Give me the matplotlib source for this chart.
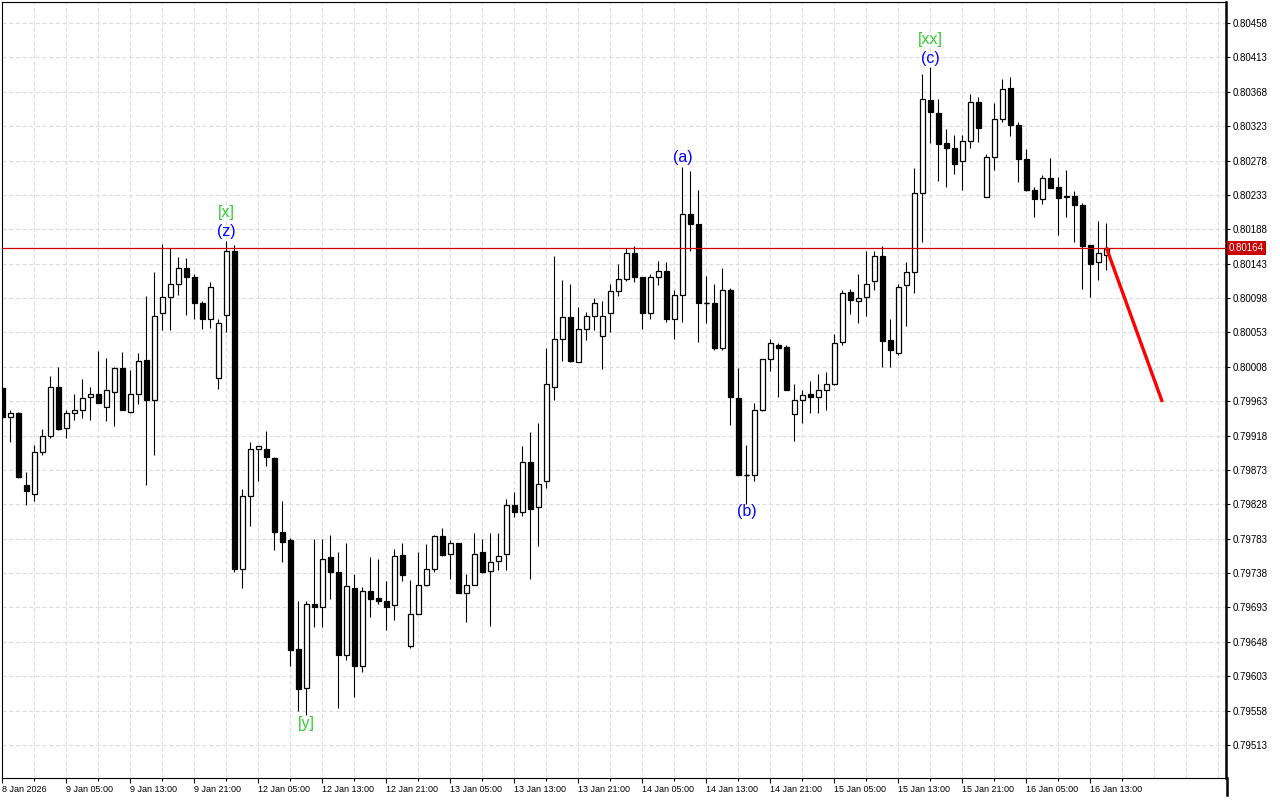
import matplotlib
matplotlib.use("Agg")
import matplotlib.pyplot as plt
import matplotlib.transforms as mtransforms
from matplotlib.lines import Line2D
import numpy as np

plt.rcParams['font.family'] = ['Liberation Sans', 'DejaVu Sans']

# ---------------- data (hourly candles, bar index 0 = 8 Jan 2026) ----------------
opens = [0.79980, 0.79942, 0.79948, 0.79853, 0.79841, 0.79896, 0.79917, 0.79981, 0.79928, 0.79947,
         0.79952, 0.79968, 0.79973, 0.79955, 0.79975, 0.80006, 0.79949, 0.79972, 0.80017, 0.79964,
         0.80079, 0.80100, 0.80116, 0.80137, 0.80126, 0.80091, 0.80071, 0.79993, 0.80076, 0.80160,
         0.79744, 0.79839, 0.79901, 0.79901, 0.79888, 0.79792, 0.79781, 0.79639, 0.79588, 0.79697,
         0.79693, 0.79759, 0.79739, 0.79631, 0.79719, 0.79617, 0.79715, 0.79705, 0.79702, 0.79696,
         0.79762, 0.79643, 0.79685, 0.79723, 0.79744, 0.79787, 0.79763, 0.79777, 0.79712, 0.79723,
         0.79765, 0.79741, 0.79754, 0.79763, 0.79827, 0.79818, 0.79883, 0.79824, 0.79858, 0.79982,
         0.80044, 0.80073, 0.80014, 0.80058, 0.80075, 0.80048, 0.80078, 0.80107, 0.80123, 0.80157,
         0.80125, 0.80079, 0.80126, 0.80133, 0.80071, 0.80102, 0.80208, 0.80195, 0.80091, 0.80091,
         0.80033, 0.80108, 0.79967, 0.79867, 0.79867, 0.79952, 0.80018, 0.80036, 0.80034, 0.79946,
         0.79964, 0.79972, 0.79968, 0.79977, 0.79985, 0.80040, 0.80106, 0.80094, 0.80099, 0.80120,
         0.80153, 0.80043, 0.80026, 0.80115, 0.80132, 0.80236, 0.80357, 0.80340, 0.80301, 0.80295,
         0.80277, 0.80303, 0.80355, 0.80230, 0.80282, 0.80332, 0.80373, 0.80325, 0.80280, 0.80239,
         0.80228, 0.80255, 0.80243, 0.80230, 0.80232, 0.80220, 0.80167, 0.80145, 0.80155]
highs = [0.79983, 0.79951, 0.79949, 0.79870, 0.79906, 0.79926, 0.79996, 0.80008, 0.79951, 0.79972,
         0.79992, 0.79982, 0.80029, 0.80020, 0.80008, 0.80027, 0.80004, 0.80026, 0.80101, 0.80132,
         0.80169, 0.80163, 0.80152, 0.80150, 0.80130, 0.80094, 0.80119, 0.80071, 0.80173, 0.80167,
         0.79848, 0.79909, 0.79905, 0.79924, 0.79890, 0.79832, 0.79784, 0.79701, 0.79701, 0.79783,
         0.79783, 0.79788, 0.79765, 0.79778, 0.79737, 0.79720, 0.79759, 0.79756, 0.79728, 0.79770,
         0.79778, 0.79729, 0.79765, 0.79776, 0.79788, 0.79797, 0.79781, 0.79778, 0.79737, 0.79790,
         0.79783, 0.79790, 0.79791, 0.79835, 0.79844, 0.79904, 0.79923, 0.79934, 0.80032, 0.80153,
         0.80122, 0.80116, 0.80086, 0.80080, 0.80098, 0.80094, 0.80117, 0.80142, 0.80163, 0.80166,
         0.80125, 0.80130, 0.80146, 0.80145, 0.80108, 0.80270, 0.80264, 0.80239, 0.80127, 0.80116,
         0.80137, 0.80111, 0.80006, 0.79906, 0.79960, 0.80018, 0.80044, 0.80039, 0.80036, 0.79986,
         0.79977, 0.79989, 0.79998, 0.80001, 0.80051, 0.80108, 0.80110, 0.80130, 0.80160, 0.80160,
         0.80166, 0.80071, 0.80116, 0.80145, 0.80268, 0.80391, 0.80400, 0.80359, 0.80319, 0.80311,
         0.80311, 0.80365, 0.80361, 0.80287, 0.80353, 0.80385, 0.80387, 0.80328, 0.80293, 0.80244,
         0.80259, 0.80281, 0.80256, 0.80266, 0.80238, 0.80222, 0.80167, 0.80199, 0.80196]
lows = [0.79940, 0.79910, 0.79862, 0.79827, 0.79833, 0.79892, 0.79915, 0.79925, 0.79915, 0.79938,
        0.79941, 0.79938, 0.79960, 0.79937, 0.79930, 0.79951, 0.79947, 0.79959, 0.79853, 0.79893,
        0.80056, 0.80056, 0.80102, 0.80076, 0.80071, 0.80058, 0.80059, 0.79979, 0.80054, 0.79740,
        0.79718, 0.79799, 0.79858, 0.79878, 0.79768, 0.79753, 0.79617, 0.79558, 0.79552, 0.79668,
        0.79667, 0.79704, 0.79562, 0.79624, 0.79576, 0.79608, 0.79681, 0.79697, 0.79663, 0.79676,
        0.79727, 0.79640, 0.79684, 0.79721, 0.79740, 0.79760, 0.79730, 0.79712, 0.79674, 0.79722,
        0.79738, 0.79669, 0.79742, 0.79742, 0.79812, 0.79813, 0.79730, 0.79773, 0.79850, 0.79964,
        0.80016, 0.80014, 0.80014, 0.80043, 0.80056, 0.80005, 0.80053, 0.80101, 0.80120, 0.80119,
        0.80057, 0.80071, 0.80115, 0.80067, 0.80044, 0.80067, 0.80160, 0.80041, 0.80066, 0.80030,
        0.80030, 0.79932, 0.79867, 0.79829, 0.79859, 0.79950, 0.80002, 0.79968, 0.79977, 0.79911,
        0.79935, 0.79947, 0.79947, 0.79952, 0.79984, 0.80036, 0.80077, 0.80065, 0.80074, 0.80108,
        0.80008, 0.80008, 0.80023, 0.80061, 0.80104, 0.80171, 0.80301, 0.80251, 0.80244, 0.80260,
        0.80240, 0.80294, 0.80302, 0.80230, 0.80265, 0.80328, 0.80310, 0.80250, 0.80238, 0.80204,
        0.80221, 0.80242, 0.80180, 0.80204, 0.80172, 0.80110, 0.80100, 0.80122, 0.80135]
closes = [0.79942, 0.79948, 0.79864, 0.79845, 0.79896, 0.79917, 0.79981, 0.79927, 0.79947, 0.79951,
          0.79967, 0.79972, 0.79960, 0.79977, 0.80006, 0.79951, 0.79972, 0.80015, 0.79964, 0.80074,
          0.80099, 0.80116, 0.80137, 0.80126, 0.80091, 0.80070, 0.80112, 0.80066, 0.80160, 0.79744,
          0.79839, 0.79901, 0.79904, 0.79890, 0.79792, 0.79779, 0.79637, 0.79586, 0.79697, 0.79694,
          0.79757, 0.79740, 0.79631, 0.79721, 0.79617, 0.79715, 0.79704, 0.79702, 0.79694, 0.79761,
          0.79735, 0.79685, 0.79722, 0.79744, 0.79787, 0.79762, 0.79777, 0.79712, 0.79723, 0.79763,
          0.79740, 0.79753, 0.79761, 0.79827, 0.79818, 0.79883, 0.79822, 0.79854, 0.79985, 0.80045,
          0.80073, 0.80015, 0.80058, 0.80075, 0.80092, 0.80075, 0.80107, 0.80123, 0.80157, 0.80125,
          0.80078, 0.80125, 0.80133, 0.80071, 0.80102, 0.80208, 0.80195, 0.80091, 0.80091, 0.80033,
          0.80108, 0.79968, 0.79867, 0.79867, 0.79952, 0.80018, 0.80039, 0.80032, 0.79977, 0.79964,
          0.79971, 0.79968, 0.79977, 0.79986, 0.80039, 0.80104, 0.80095, 0.80098, 0.80116, 0.80153,
          0.80042, 0.80030, 0.80113, 0.80132, 0.80236, 0.80358, 0.80341, 0.80299, 0.80295, 0.80274,
          0.80303, 0.80354, 0.80320, 0.80282, 0.80332, 0.80371, 0.80324, 0.80280, 0.80239, 0.80228,
          0.80255, 0.80242, 0.80229, 0.80232, 0.80220, 0.80166, 0.80142, 0.80157, 0.80164]

current_price = 0.80164
forecast_bars = [138, 145]
forecast_prices = [0.80164, 0.79962]

date_labels = ["8 Jan 2026", "9 Jan 05:00", "9 Jan 13:00", "9 Jan 21:00", "12 Jan 05:00",
               "12 Jan 13:00", "12 Jan 21:00", "13 Jan 05:00", "13 Jan 13:00", "13 Jan 21:00",
               "14 Jan 05:00", "14 Jan 13:00", "14 Jan 21:00", "15 Jan 05:00", "15 Jan 13:00",
               "15 Jan 21:00", "16 Jan 05:00", "16 Jan 13:00"]
price_labels = ["0.80458", "0.80413", "0.80368", "0.80323", "0.80278", "0.80233", "0.80188",
                "0.80143", "0.80098", "0.80053", "0.80008", "0.79963", "0.79918", "0.79873",
                "0.79828", "0.79783", "0.79738", "0.79693", "0.79648", "0.79603", "0.79558",
                "0.79513"]

# wave labels: (bar, text, colour, side, level)
wave_labels = [(28, "(z)", "#0000ff", "above", 1), (28, "[x]", "#32cd32", "above", 2),
               (38, "[y]", "#32cd32", "below", 1),
               (85, "(a)", "#0000ff", "above", 1), (93, "(b)", "#0000ff", "below", 1),
               (116, "(c)", "#0000ff", "above", 1), (116, "[xx]", "#32cd32", "above", 2)]

# ---------------- figure ----------------
fig = plt.figure(figsize=(12.8, 8), dpi=100)
fig.patch.set_facecolor("white")
ax = fig.add_axes([2 / 1280, 22 / 800, 1224 / 1280, 776 / 800])
ax.set_xlim(-0.04, 152.96)
ax.set_ylim(0.794698, 0.804855)

o = np.array(opens); h = np.array(highs); l = np.array(lows); c = np.array(closes)
idx = np.arange(len(o))

# grid
price_vals = [float(s) for s in price_labels]
for pv in price_vals:
    ax.axhline(pv, color="#dcdcdc", lw=0.8, dashes=(3.6, 2.4), zorder=0.5)
for gx in range(4, 153, 4):
    ax.axvline(gx, color="#dcdcdc", lw=0.8, dashes=(3.6, 2.4), zorder=0.5)

# candles
ax.vlines(idx, l, h, color="black", lw=0.8, zorder=2)
bottoms = np.minimum(o, c)
heights = np.abs(c - o)
colors = ["white" if cc > oo else "black" for oo, cc in zip(o, c)]
ax.bar(idx, heights, bottom=bottoms, width=0.6, color=colors, edgecolor="black",
       linewidth=0.9, zorder=3)
doji = heights < 0.000005
ax.hlines(o[doji], idx[doji] - 0.32, idx[doji] + 0.32, color="black", lw=1.0, zorder=4)

# current price line and forecast
ax.axhline(current_price, color="#d00000", lw=0.9, zorder=5)
ax.plot(forecast_bars, forecast_prices, color="#ff0000", lw=2.4, zorder=6,
        solid_capstyle="butt")

# wave labels
for bar, txt, col, side, lev in wave_labels:
    if side == "above":
        yv = h[bar]
        off = 6.5 if lev == 1 else 20.2
    else:
        yv = l[bar]
        off = -6.0 if lev == 1 else -19.0
    ax.annotate(txt, (bar, yv), xytext=(0, off), textcoords="offset points",
                ha="center", va="center", color=col, fontsize=11.5, zorder=7)

# axes / ticks
for side in ["left", "top", "bottom"]:
    ax.spines[side].set_linewidth(0.8)
ax.spines["right"].set_linewidth(1.8)

ax.yaxis.tick_right()
ax.set_yticks(price_vals)
ax.set_yticklabels(price_labels)
ax.tick_params(axis="y", length=3, width=0.8, pad=1.5, labelsize=7, colors="black")

major_x = [8 * k for k in range(len(date_labels))]
ax.set_xticks(major_x)
ax.set_xticklabels(date_labels, ha="left")
ax.set_xticks([m + 4 for m in major_x], minor=True)
ax.tick_params(axis="x", which="major", length=3.5, width=0.8, pad=1.2, labelsize=6.5)
ax.tick_params(axis="x", which="minor", length=2, width=0.8)

# current price tag on the price scale
trans = mtransforms.blended_transform_factory(ax.transAxes, ax.transData)
ax.annotate(f"{current_price:.5f}", (1.0, current_price), xycoords=trans,
            xytext=(2.2, 0), textcoords="offset points", ha="left", va="center",
            fontsize=7, color="white", annotation_clip=False,
            bbox=dict(boxstyle="square,pad=0.2", fc="#cc0000", ec="none"), zorder=10)

fig.add_artist(Line2D([1226.5 / 1280, 1226.5 / 1280], [5 / 800, 22 / 800],
                      color="black", lw=1.8))

fig.savefig("out.png", dpi=100, facecolor="white")
